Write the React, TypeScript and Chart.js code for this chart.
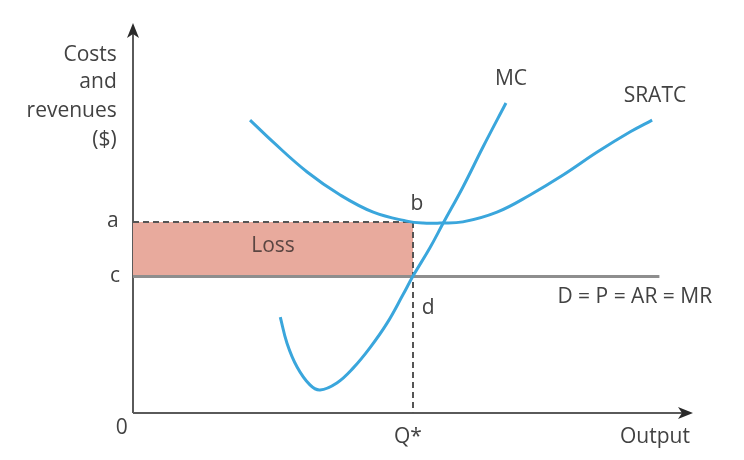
import React, { useEffect, useRef } from "react";
import { Chart, registerables } from "chart.js";

Chart.register(...registerables);

// Output (x) and Costs/revenues (y) in arbitrary units (0..100 along each axis)
const srAtcX = [20.9, 25.0, 31.1, 37.0, 42.9, 48.9, 51.8, 54.8, 58.9, 65.0, 70.9, 76.8, 82.9, 88.8, 92.7];
const srAtcY = [75.1, 69.5, 61.8, 55.9, 51.5, 49.2, 48.7, 48.7, 49.0, 51.5, 55.9, 61.0, 66.9, 72.1, 75.1];

const mcX = [26.3, 27.5, 29.3, 31.6, 33.4, 36.4, 39.3, 42.3, 45.4, 48.2, 50.0, 53.0, 55.4, 58.9, 62.5, 66.6];
const mcY = [24.6, 17.9, 11.8, 7.2, 5.9, 7.7, 11.5, 16.7, 23.1, 30.3, 35.1, 42.3, 48.7, 57.9, 68.2, 79.5];

const qStar = 50;
const levelA = 49;
const levelC = 35;
const demandEnd = 94;

// text annotations: [text, x, y, align]
const labels: [string, number, number, CanvasTextAlign][] = [
  ["a", -3.6, 49.2, "center"],
  ["c", -3.2, 35.1, "center"],
  ["0", -2.0, -3.8, "center"],
  ["Q*", 49.1, -6.2, "center"],
  ["Output", 93.2, -6.2, "center"],
  ["b", 50.7, 53.6, "center"],
  ["d", 52.7, 26.9, "center"],
  ["MC", 67.5, 85.6, "center"],
  ["SRATC", 93.2, 81.3, "center"],
  ["D = P = AR = MR", 89.6, 29.7, "center"],
  ["Costs", -2.9, 91.8, "right"],
  ["and", -2.9, 84.9, "right"],
  ["revenues", -2.9, 77.4, "right"],
  ["($)", -2.9, 70.0, "right"],
];
const lossLabel: [string, number, number] = ["Loss", 25, 42.8];

const FONT = '"Open Sans", "Noto Sans", sans-serif';
const BLUE = "#3aa6dc";

const pts = (xs: number[], ys: number[]) => xs.map((x, i) => ({ x, y: ys[i] }));

const overlayPlugin = {
  id: "overlay",
  beforeDatasetsDraw(chart: any) {
    const { ctx, scales } = chart;
    const xs = scales.x, ys = scales.y;
    const x0 = xs.getPixelForValue(0), y0 = ys.getPixelForValue(0);
    const xEnd = xs.getPixelForValue(100), yTop = ys.getPixelForValue(100);
    ctx.save();
    ctx.strokeStyle = "#5a5a5a";
    ctx.lineWidth = 2;
    ctx.beginPath();
    ctx.moveTo(x0, y0);
    ctx.lineTo(x0, yTop + 8);
    ctx.moveTo(x0, y0);
    ctx.lineTo(xEnd - 8, y0);
    ctx.stroke();
    ctx.fillStyle = "#2a2a2a";
    ctx.beginPath();
    ctx.moveTo(x0, yTop);
    ctx.lineTo(x0 - 6, yTop + 15);
    ctx.lineTo(x0, yTop + 11);
    ctx.lineTo(x0 + 6, yTop + 15);
    ctx.closePath();
    ctx.fill();
    ctx.beginPath();
    ctx.moveTo(xEnd, y0);
    ctx.lineTo(xEnd - 15, y0 - 6);
    ctx.lineTo(xEnd - 11, y0);
    ctx.lineTo(xEnd - 15, y0 + 6);
    ctx.closePath();
    ctx.fill();
    ctx.restore();
  },
  afterDraw(chart: any) {
    const { ctx, scales } = chart;
    ctx.save();
    ctx.font = `21px ${FONT}`;
    ctx.textBaseline = "middle";
    ctx.fillStyle = "#424242";
    for (const [t, x, y, al] of labels) {
      ctx.textAlign = al;
      ctx.fillText(t, scales.x.getPixelForValue(x), scales.y.getPixelForValue(y));
    }
    ctx.fillStyle = "#5b4642";
    ctx.textAlign = "center";
    ctx.fillText(lossLabel[0], scales.x.getPixelForValue(lossLabel[1]), scales.y.getPixelForValue(lossLabel[2]));
    ctx.restore();
  },
};

export default function App() {
  const ref = useRef<HTMLCanvasElement>(null);
  useEffect(() => {
    if (!ref.current) return;
    const chart = new Chart(ref.current, {
      type: "line",
      data: {
        datasets: [
          {
            label: "Loss",
            data: [{ x: 0, y: levelA }, { x: qStar, y: levelA }],
            borderColor: "#555555",
            borderWidth: 2,
            borderDash: [6, 4],
            backgroundColor: "#e8aa9d",
            fill: { value: levelC },
            pointRadius: 0,
            order: 5,
          },
          {
            label: "Q*",
            data: [{ x: qStar, y: levelA }, { x: qStar, y: 0 }],
            borderColor: "#555555",
            borderWidth: 2,
            borderDash: [6, 4],
            pointRadius: 0,
            fill: false,
            order: 4,
          },
          {
            label: "D = P = AR = MR",
            data: [{ x: 0, y: levelC }, { x: demandEnd, y: levelC }],
            borderColor: "#8e8e8e",
            borderWidth: 3,
            pointRadius: 0,
            fill: false,
            order: 3,
          },
          {
            label: "SRATC",
            data: pts(srAtcX, srAtcY),
            borderColor: BLUE,
            borderWidth: 3,
            pointRadius: 0,
            tension: 0.4,
            fill: false,
            order: 2,
          },
          {
            label: "MC",
            data: pts(mcX, mcY),
            borderColor: BLUE,
            borderWidth: 3,
            pointRadius: 0,
            tension: 0.4,
            fill: false,
            order: 1,
          },
        ],
      },
      options: {
        responsive: false,
        animation: false,
        layout: { padding: { left: 125, right: 43, top: 15, bottom: 39 } },
        plugins: { legend: { display: false }, tooltip: { enabled: false } },
        scales: {
          x: { type: "linear", min: 0, max: 100, display: false },
          y: { type: "linear", min: 0, max: 100, display: false },
        },
      },
      plugins: [overlayPlugin],
    } as any);
    return () => chart.destroy();
  }, []);
  return (
    <div style={{ width: 728, height: 444 }}>
      <canvas ref={ref} width={728} height={444} style={{ display: "block" }} />
    </div>
  );
}
